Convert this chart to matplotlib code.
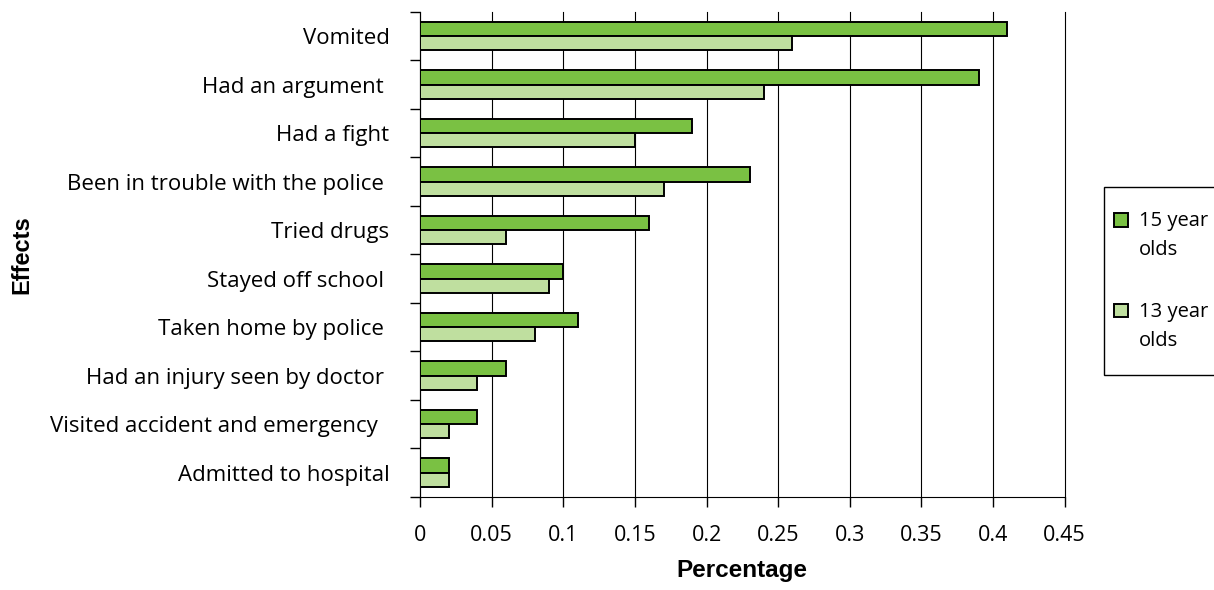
import numpy as np
import matplotlib.pyplot as plt
from matplotlib.ticker import FixedLocator
from matplotlib.patches import Rectangle
from matplotlib.legend_handler import HandlerPatch

effects = ["Vomited", "Had an argument ", "Had a fight", "Been in trouble with the police ",
           "Tried drugs", "Stayed off school ", "Taken home by police ",
           "Had an injury seen by doctor ", "Visited accident and emergency  ",
           "Admitted to hospital"]
age15 = [0.41, 0.39, 0.19, 0.23, 0.16, 0.10, 0.11, 0.06, 0.04, 0.02]
age13 = [0.26, 0.24, 0.15, 0.17, 0.06, 0.09, 0.08, 0.04, 0.02, 0.02]
series_labels = ["15 year\nolds", "13 year\nolds"]
xticks = [0, 0.05, 0.1, 0.15, 0.2, 0.25, 0.3, 0.35, 0.4, 0.45]
xticklabels = ["0", "0.05", "0.1", "0.15", "0.2", "0.25", "0.3", "0.35", "0.4", "0.45"]

dark = "#7AC143"
light = "#BFDF9F"
font = "Open Sans"

fig = plt.figure(figsize=(12.14, 5.9), dpi=100)
ax = fig.add_axes([0.346, 0.158, 0.531, 0.822])

y = np.arange(len(effects))
h = 0.29
b15 = ax.barh(y - h / 2, age15, height=h, color=dark, edgecolor="black", linewidth=1.4, zorder=3)
b13 = ax.barh(y + h / 2, age13, height=h, color=light, edgecolor="black", linewidth=1.4, zorder=3)

ax.set_ylim(len(effects) - 0.5, -0.5)
ax.set_xlim(0, 0.45)

ax.set_yticks(y)
ax.set_yticklabels(effects, fontsize=16, family=font)
ax.tick_params(axis="y", which="major", length=0, pad=22)
ax.yaxis.set_minor_locator(FixedLocator(np.arange(-0.5, len(effects), 1)))
ax.tick_params(axis="y", which="minor", length=7, width=1, direction="out")

ax.set_xticks(xticks)
ax.set_xticklabels(xticklabels, fontsize=15.5, family=font)
ax.tick_params(axis="x", length=7, width=1, direction="out", pad=13)
ax.grid(axis="x", color="black", linewidth=0.8, zorder=0)
for gl in ax.get_xgridlines():
    gl.set_clip_on(False)

for s in ["top", "right"]:
    ax.spines[s].set_visible(False)

ax.set_xlabel("Percentage", fontsize=17.5, fontweight="bold", family="Liberation Sans", labelpad=10)
ax.set_ylabel("Effects", fontsize=17, fontweight="bold", family="Liberation Sans", labelpad=12)


def raised_square(legend, orig_handle, xdescent, ydescent, width, height, fontsize):
    return Rectangle((-xdescent, -ydescent + 0.8 * fontsize), width, height)


# legend frame drawn by hand so it can run off the right edge like the original
fig.patches.append(Rectangle((0.9094, 0.3644), 0.2, 0.3186, transform=fig.transFigure,
                             facecolor="white", edgecolor="black", linewidth=1))

leg = fig.legend([b15.patches[0], b13.patches[0]], series_labels,
                 loc="upper left", bbox_to_anchor=(0.918, 0.642), bbox_transform=fig.transFigure,
                 borderaxespad=0, frameon=False, borderpad=0,
                 prop={"family": font, "size": 14.5}, handlelength=0.65, handleheight=0.65,
                 handletextpad=0.55, labelspacing=2.05,
                 handler_map={Rectangle: HandlerPatch(patch_func=raised_square)})
for t in leg.get_texts():
    t.set_linespacing(1.6)

fig.savefig("out.png", dpi=100)
